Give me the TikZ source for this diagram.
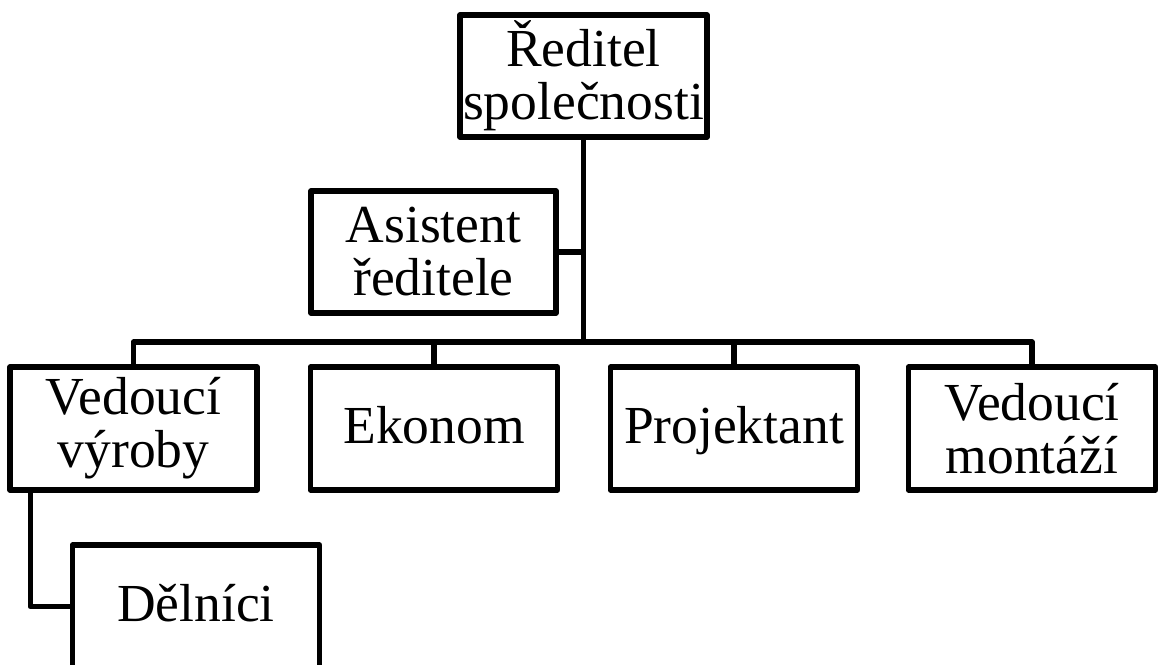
\documentclass[tikz,border=0pt]{standalone}
\usepackage{fontspec}
\setmainfont{Liberation Serif}
\begin{document}
\begin{tikzpicture}[x=1pt,y=-1pt,
  line width=5.5pt, line join=round,
  orgbox/.style={draw, rectangle, inner sep=0pt, align=center,
    minimum width=247pt, minimum height=123pt,
    font=\fontsize{53.5}{53}\selectfont},
  oneline/.style={text height=40pt, text depth=10pt}]
\useasboundingbox (0,0) rectangle (1159,664);
\clip (0,0) rectangle (1159,664);

% management level
\node[orgbox, minimum height=122pt] (ceo)  at (583.5,76)  {Ředitel\\společnosti};
\node[orgbox, minimum width=245pt, minimum height=122pt] (asst) at (433.5,252) {Asistent\\ředitele};

% department heads
\node[orgbox] (vv)   at (133.5,428.5) {Vedoucí\\výroby};
\node[orgbox, oneline] (ek)   at (434,428.5)   {Ekonom};
\node[orgbox, oneline] (proj) at (734,428.5)   {Projektant};
\node[orgbox] (mont) at (1032,428.5)  {Vedoucí\\montáží};

% workers
\node[orgbox, oneline] (del)  at (196,606.5)   {Dělníci};

% connectors
\coordinate (bus) at (583.5,342);
\draw (ceo.south) -- (bus);
\draw (asst.east) -- (asst.east -| ceo.south);
\draw (vv.north) -- (vv.north |- bus) -- (mont.north |- bus) -- (mont.north);
\draw (ek.north) -- (ek.north |- bus);
\draw (proj.north) -- (proj.north |- bus);
\draw ([xshift=23pt]vv.south west) |- (del.west);
\end{tikzpicture}
\end{document}
